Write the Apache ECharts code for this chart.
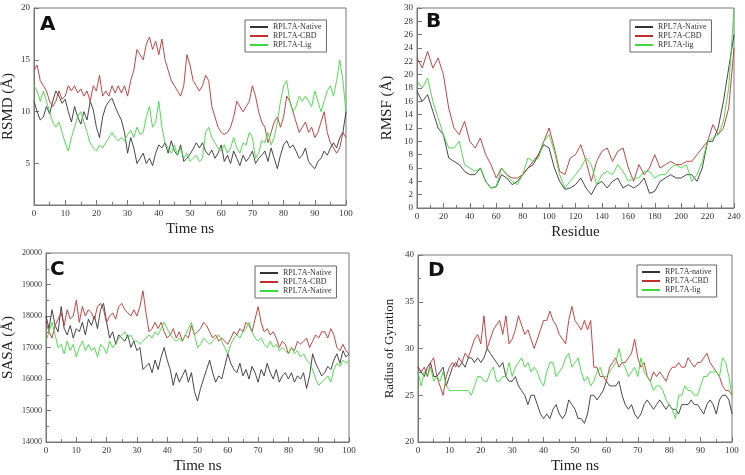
<!DOCTYPE html><html><head><meta charset="utf-8">
<script src="https://cdn.jsdelivr.net/npm/echarts@6/dist/echarts.min.js"></script>
<style>html,body{margin:0;background:#fff}#c{width:745px;height:475px}</style></head><body><div id="c"></div><script>
const aNative=[11,10,9.2,9.5,10.5,9.8,11,12,11.5,10.8,11.2,10,9,10.5,9.5,8.8,10,9.2,11,10.2,8.5,7.5,9.5,10.5,11,11.3,10.5,9.8,9.2,8,6,7.5,6.5,5,5.5,6,5,5.5,4.8,6,6.8,6.5,7,6,7.2,6.2,5.8,6.8,5.2,5.5,5.9,6.4,7,6.5,7,6.2,5.8,6.3,5.5,6,6.8,5.2,5.8,5.0,6.2,5.5,4.8,5.8,5.2,5.6,6.2,5.0,5.5,5.8,6.2,5.2,6.5,5.5,4.5,5.8,6.8,7.2,6.5,6.8,6.2,5.5,5.8,6.5,5.2,4.8,4.5,5.2,5.5,6.2,5.8,6.5,7.0,6.5,7.5,8,10];
const aCBD=[14,14.5,13,12.5,12,11,10.5,11,12,11.2,11.5,12.5,12,12.5,11.8,12.2,11.5,12,11,12.5,12,13.5,11.5,12,11.5,12.5,11.8,12.5,11.8,12.5,11.5,13,14,16,15.5,15,16.5,17.2,16,16.8,15.5,17,15,14,13,12.5,12,11.5,12.5,15.5,14.5,13,12.5,12,12.5,13.5,13,10.5,9.5,8.5,8,7.8,8,8.5,9.5,11,10.5,10,10.5,11,12.5,11.5,10,9,8.5,7,8,9,9.5,8.5,9.5,11.5,11,10,9,8,8.5,9,8,8.5,7.5,8,9,10,8,7,6.5,6,6.5,8,7.5];
const aLig=[12.5,12,11,12,11,10,9,8.5,9,8,7,6.2,7.5,8.5,9.5,10,9,8,7,6.5,6.2,6.8,6.5,7,7.5,8,7.5,7.2,7.5,7.2,7.8,8.2,7.5,8.5,7.8,8,9.5,10.5,8.5,9,11,8.5,7,6.5,6,6.8,5.8,6.5,5.5,6,5.2,5.5,5.8,5.2,5.5,8,8.5,7.5,7,6.5,6.2,6.8,6,6.5,7.5,6.5,6,7,6.8,8,7.5,5.5,6,7.2,7,8,6.8,7.5,9,11,12.5,13,11,10,10.5,11.5,11,11.5,11,10.5,12,11,10,11,12,12.5,11.5,13,15,13,10];
const bNative=[17.5,16,17,14.5,12,11,7.5,7,6.5,5.5,5,5,6,4,3,3.2,5,4.5,3.5,4,5,6,6.5,8,9.5,9,6,4,2.8,3,3.5,4.5,3,2,3.5,4,3,4,4.5,3,3.5,3,3.5,4.5,2.2,2.5,4,4.5,5,4.5,4.5,5,5,4,6,10,10,12,16,21,26];
const bCBD=[22.5,21,23.5,21,22.5,20,15,12,11,13,10,9,10.5,8,6.5,4.5,6,5,4.5,4.5,5,6,7,8,10,12,9,5.5,5,7.5,8,9.5,7,4,7,8.5,9,7,8.5,9,6,4,6.5,5,6,8,6,6.5,7,6.5,6.5,7,7,8,9,10,12.5,11,12,15,24];
const bLig=[19,18,19.5,16,13.5,11,9,9,10,6.5,6,5.5,6,4,3,3.2,6,5,4,3.5,5,7.5,7,7.5,10,11,8.5,5,3,4,5,6,7.5,6.5,3.5,5,5.5,5,6.5,5.5,4,4.5,4.5,5.5,5.5,4.5,5,5,6,6.5,6,6.5,4,5,7,10,10.5,11,13,18,30];
const cNative=[18000,17600,18200,17700,17500,18300,17600,17400,17700,17300,17600,17500,17800,17400,17900,17700,18000,17600,18200,18400,17800,17300,17500,17100,17400,17300,17200,17400,17000,17200,16900,17000,16300,16400,16500,16200,16600,16300,16700,17000,16600,16300,15800,16200,15900,16100,16300,15900,16200,15600,15300,15700,16000,16300,16600,16200,15900,16100,16000,16400,16800,16500,16300,16200,16500,16100,16300,16000,16400,16200,15900,16300,16100,16500,16200,16000,16300,15900,16100,16200,16000,16200,15900,16100,16000,16200,15700,16100,16800,16500,16300,16100,16200,16400,16300,16600,16800,16500,16900,16700,16800];
const cCBD=[17800,17500,17300,17700,17900,18100,17700,18200,17900,18000,18500,17800,18300,18000,18200,18100,17900,18300,18400,18200,17800,18000,18100,17900,18300,18400,18200,18100,18000,18200,18000,18300,18800,18100,17500,17600,17800,17600,17800,17500,17300,17400,17600,17300,17500,17200,17400,17300,17700,17400,17500,17600,17800,17700,17500,17300,17400,17200,17300,17200,17100,17300,17500,17400,17600,17500,17800,17700,17500,17900,18300,17800,17500,17600,17400,17500,17300,17000,17200,17100,16800,17000,16900,17200,17100,17200,17300,17000,17200,17400,17300,17500,17500,17300,17600,17400,17000,16900,17100,16900,16800];
const cLig=[17200,17500,17800,17400,17000,17100,16800,17200,16900,17100,16700,17000,17200,16900,17100,16900,17000,16700,17100,17000,16800,17200,17000,17100,17300,17400,17500,17300,17400,17200,17200,17100,17200,17300,17400,17300,17500,17400,17600,17800,17600,17400,17300,17200,17300,17200,17400,17600,17800,17400,17000,17100,17300,17200,17100,17200,17300,17400,17200,17000,16800,17100,17300,17400,17300,17500,17600,17800,17500,17300,17200,17300,17100,17000,17200,17000,17100,16900,17000,16900,16800,17000,16800,16900,16700,16800,16600,16500,16300,16000,15800,15900,16000,16100,15900,16300,16500,16400,16600,16500,16600];
const dNative=[28,27.5,27,28,28.5,27,27,27.5,28,26,27,28,28.5,28,28.5,28,29,29,28.5,29,28.5,29,30,29.5,29,28.5,28,28.5,27,26.5,26.5,27,26,25.5,25,24,25,25,24,23,22.5,23,22.5,23.5,24,23,22.5,23,24.5,24,23.5,22.5,22.5,22,23,25,25,24.5,25,25.5,26.5,26,26,26,26.5,25,24,23.5,24,23,22.5,23,24,24.5,24,23.5,24,24.5,24,23.5,24,23.5,23.5,23,24,24,24,24.5,24,24,23.5,23,24,24.5,24,23,24.5,25,25,24.5,23];
const dCBD=[28,27.5,28,27,28.5,29,27,26,25,27,28,28.5,28,29,28.5,29.5,29,30,31,31.5,30.5,33.5,30,31,32,32.5,33,31.5,33.5,30.5,31,32,33.5,32.5,31.5,32,31,30,31,32,33,33,34,33,32.5,31.5,31,30.5,33,34.5,33,32.5,32,33,32,33,28,28,27,27,26.5,28,28.5,29,28,28.5,28.5,29,29.5,31,29,28,28.5,27,26.5,27.5,27,27.5,27,26.5,27.5,28,28,28.5,28,28,29,28.5,28,28.5,28.5,29,29.5,28.5,28,27.5,27,26,25.5,25.5,25];
const dLig=[27.5,26,27.5,27,28,26.5,27,26.5,27.5,26,25.5,25.5,25.5,25.5,25.5,25.5,25.5,25,26,27,27,26.5,26.5,27.5,28,26.5,26.5,27,27,28.5,27,28,28.5,29,28,28.5,27.5,28,27.5,26.5,26,27.5,28.5,28.5,27,27.5,28,29,29.5,28,28.5,29,27.5,26.5,27,26,26.5,27.5,28,27,27,27.5,28,28.5,30,28.5,28,27,27.5,28,27,29,27.5,27,26.5,25.5,26,26,25.5,24.5,24,23.5,22.5,25,25,26,25.5,25.5,25,25,26,27,27,27.5,27.5,27.5,27,29,28.5,27,25];
const labels={A:['RPL7A-Native','RPL7A-CBD','RPL7A-Lig'],B:['RPL7A-Native','RPL7A-CBD','RPL7A-lig'],C:['RPL7A-Native','RPL7A-CBD','RPL7A-Native'],D:['RPL7A-native','RPL7A-CBD','RPL7A-lig']};
const colors=['#333333','#c0302f','#3cd93c'];
const serif='Liberation Serif';
const pair=(arr,xmax)=>arr.map((v,i)=>[i*xmax/(arr.length-1),v]);
const grids=[{left:34,top:8,width:312,height:197},{left:417,top:8,width:317,height:200},{left:42,top:253,width:307,height:195},{left:418,top:255,width:314,height:194}];
const ax=(g,o)=>Object.assign({gridIndex:g,axisLine:{onZero:false,lineStyle:{color:'#777'}},axisTick:{inside:true,length:5,lineStyle:{color:'#777'}},minorTick:{show:true,splitNumber:2,length:3,lineStyle:{color:'#777'}},splitLine:{show:false},axisLabel:{color:'#333',fontFamily:serif,fontSize:9,margin:4},nameTextStyle:{color:'#222',fontFamily:serif,fontSize:15}},o);
const xAxis=[
 ax(0,{type:'value',min:0,max:100,interval:10,name:'Time ns',nameLocation:'middle',nameGap:17}),
 ax(1,{type:'value',min:0,max:240,interval:20,name:'Residue',nameLocation:'middle',nameGap:17}),
 ax(2,{type:'value',min:0,max:100,interval:10,name:'Time ns',nameLocation:'middle',nameGap:17}),
 ax(3,{type:'value',min:0,max:100,interval:10,name:'Time ns',nameLocation:'middle',nameGap:17})];
const yAxis=[
 ax(0,{type:'value',min:1,max:20,name:'RSMD (Å)',nameLocation:'middle',nameGap:18,axisLabel:{color:'#333',fontFamily:serif,fontSize:9,margin:4,customValues:[5,10,15,20]},axisTick:{inside:true,length:5,lineStyle:{color:'#777'},customValues:[5,10,15,20]},minorTick:{show:false}}),
 ax(1,{type:'value',min:0,max:30,interval:2,name:'RMSF (Å)',nameLocation:'middle',nameGap:22,minorTick:{show:false}}),
 ax(2,{type:'value',min:14000,max:20000,interval:1000,name:'SASA (Å)',nameLocation:'middle',nameGap:30,axisLabel:{color:'#333',fontFamily:serif,fontSize:8,margin:4,formatter:v=>String(v)}}),
 ax(3,{type:'value',min:20,max:40,interval:5,name:'Radius of Gyration',nameLocation:'middle',nameGap:22,nameTextStyle:{color:'#222',fontFamily:serif,fontSize:13}})];
const mk=(p,data,xmax,g,ci)=>({type:'line',name:p+ci,data:pair(data,xmax),xAxisIndex:g,yAxisIndex:g,symbol:'none',lineStyle:{width:0.9,color:colors[ci]},itemStyle:{color:colors[ci]}});
const series=[
 mk('A',aNative,100,0,0),mk('A',aCBD,100,0,1),mk('A',aLig,100,0,2),
 mk('B',bNative,240,1,0),mk('B',bCBD,240,1,1),mk('B',bLig,240,1,2),
 mk('C',cNative,100,2,0),mk('C',cCBD,100,2,1),mk('C',cLig,100,2,2),
 mk('D',dNative,100,3,0),mk('D',dCBD,100,3,1),mk('D',dLig,100,3,2)];
const lg=(p,left,top)=>({data:[p+0,p+1,p+2],left,top,orient:'vertical',itemWidth:18,itemHeight:2,itemGap:1,padding:[3,5],borderColor:'#666',borderWidth:1,icon:'rect',formatter:n=>labels[n[0]][+n[1]],textStyle:{fontFamily:serif,fontSize:8,color:'#333'},selectedMode:false});
const legend=[lg('A',245,20),lg('B',630,20),lg('C',255,266),lg('D',637,265)];
const letter=(t,x,y)=>({type:'text',left:x,top:y,style:{text:t,font:'bold 20px "DejaVu Sans"',fill:'#111'}});
const chart=echarts.init(document.getElementById('c'));
chart.setOption({animation:false,backgroundColor:'#fff',grid:grids.map(g=>Object.assign({show:true,borderColor:'#777',borderWidth:1,backgroundColor:'transparent'},g)),xAxis,yAxis,series,legend,
 graphic:[letter('A',40,15),letter('B',426,12),letter('C',50,260),letter('D',428,261)]});
</script></body></html>
